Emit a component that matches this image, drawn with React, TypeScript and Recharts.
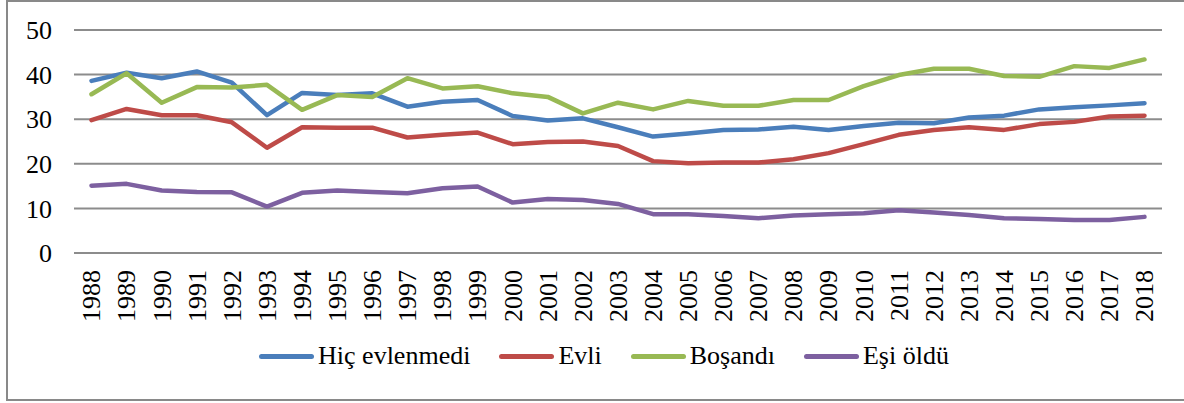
import { CartesianGrid, Legend, Line, LineChart, XAxis, YAxis } from "recharts"

const years = [
  "1988", "1989", "1990", "1991", "1992", "1993", "1994", "1995", "1996", "1997", "1998",
  "1999", "2000", "2001", "2002", "2003", "2004", "2005", "2006", "2007", "2008", "2009",
  "2010", "2011", "2012", "2013", "2014", "2015", "2016", "2017", "2018",
]

const hicEvlenmedi = [
  38.6, 40.4, 39.2, 40.7, 38.2, 30.9, 35.9, 35.4, 35.8, 32.8, 33.9, 34.3, 30.7, 29.7, 30.2, 28.2,
  26.1, 26.8, 27.6, 27.7, 28.3, 27.6, 28.5, 29.2, 29.1, 30.4, 30.8, 32.2, 32.7, 33.1, 33.6,
]
const evli = [
  29.8, 32.3, 30.9, 30.9, 29.3, 23.6, 28.2, 28.1, 28.1, 25.9, 26.5, 27.0, 24.4, 24.9, 25.0, 24.0,
  20.6, 20.1, 20.3, 20.3, 21.0, 22.4, 24.4, 26.5, 27.6, 28.2, 27.6, 28.9, 29.4, 30.6, 30.8,
]
const bosandi = [
  35.6, 40.3, 33.7, 37.2, 37.1, 37.7, 32.1, 35.4, 35.0, 39.2, 36.9, 37.4, 35.8, 35.0, 31.3, 33.7,
  32.2, 34.1, 33.0, 33.0, 34.3, 34.3, 37.4, 39.9, 41.3, 41.3, 39.7, 39.5, 41.9, 41.5, 43.4,
]
const esiOldu = [
  15.1, 15.5, 14.0, 13.7, 13.6, 10.4, 13.5, 14.0, 13.7, 13.4, 14.5, 14.9, 11.3, 12.1, 11.9, 11.0,
  8.7, 8.7, 8.3, 7.8, 8.4, 8.7, 8.9, 9.6, 9.1, 8.5, 7.8, 7.6, 7.4, 7.4, 8.1,
]

const yTicks = [0, 10, 20, 30, 40, 50]

const series = [
  { key: "hic", name: "Hiç evlenmedi", color: "#4a7ebb", values: hicEvlenmedi },
  { key: "evli", name: "Evli", color: "#be4b48", values: evli },
  { key: "bosandi", name: "Boşandı", color: "#98b954", values: bosandi },
  { key: "esi", name: "Eşi öldü", color: "#7d60a0", values: esiOldu },
]

const data = years.map((year, i) => {
  const row: Record<string, string | number> = { year }
  series.forEach((s) => {
    row[s.key] = s.values[i]
  })
  return row
})

const font = "Liberation Serif, Tinos, Times New Roman, DejaVu Serif, serif"

function YearTick(props: any) {
  const { x, y, payload } = props
  return (
    <text
      x={x}
      y={y}
      transform={`rotate(-90, ${x}, ${y})`}
      textAnchor="end"
      dy="0.34em"
      style={{ fontFamily: font }}
      fontSize={26}
      fill="#000"
    >
      {payload.value}
    </text>
  )
}

function LegendBox() {
  return (
    <div
      style={{
        height: 30,
        display: "flex",
        justifyContent: "center",
        alignItems: "center",
        paddingLeft: 24,
        fontFamily: font,
        fontSize: 26,
        color: "#000",
      }}
    >
      {series.map((s, i) => (
        <div key={s.key} style={{ display: "flex", alignItems: "center", marginLeft: i === 0 ? 0 : 29 }}>
          <span
            style={{
              display: "inline-block",
              width: 55,
              height: 5,
              borderRadius: 3,
              background: s.color,
              marginRight: 4,
            }}
          />
          <span style={{ lineHeight: "30px", whiteSpace: "nowrap" }}>{s.name}</span>
        </div>
      ))}
    </div>
  )
}

export default function App() {
  return (
    <div
      style={{
        position: "absolute",
        left: 0,
        top: 0,
        width: 1184,
        height: 403,
        background: "#fff",
        fontFamily: font,
      }}
    >
      <div
        style={{
          position: "absolute",
          left: 6,
          top: 0,
          width: 1178,
          height: 401,
          boxSizing: "border-box",
          borderTop: "2px solid #898989",
          borderLeft: "2px solid #898989",
          borderBottom: "2px solid #898989",
        }}
      />
      <LineChart width={1184} height={403} data={data} margin={{ top: 30, right: 22, bottom: 0, left: 0 }}>
        <CartesianGrid vertical={false} stroke="#8c8c8c" strokeWidth={2} />
        <XAxis
          dataKey="year"
          interval={0}
          axisLine={false}
          tickLine={false}
          tickSize={0}
          tickMargin={17}
          height={120}
          padding={{ left: 17.5, right: 17.5 }}
          tick={<YearTick />}
        />
        <YAxis
          domain={[0, 50]}
          ticks={yTicks}
          width={74}
          axisLine={false}
          tickLine={false}
          tickSize={0}
          tickMargin={22}
          tick={{ fontSize: 26, fill: "#000", style: { fontFamily: font } }}
        />
        <Legend
          verticalAlign="bottom"
          content={<LegendBox />}
          wrapperStyle={{ top: 341, bottom: "auto", left: 0, width: 1184 }}
        />
        {series.map((s) => (
          <Line
            key={s.key}
            dataKey={s.key}
            name={s.name}
            stroke={s.color}
            strokeWidth={4.5}
            strokeLinecap="round"
            strokeLinejoin="round"
            dot={false}
            activeDot={false}
            isAnimationActive={false}
          />
        ))}
      </LineChart>
    </div>
  )
}
